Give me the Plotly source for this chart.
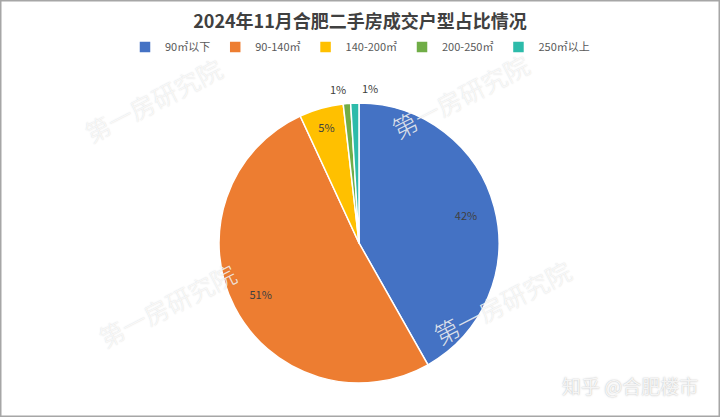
import math
import plotly.graph_objects as go

categories = ["90㎡以下", "90-140㎡", "140-200㎡", "200-250㎡", "250㎡以上"]
shares = [41.8, 51.3, 5.1, 0.85, 0.95]
colors = ["#4472C4", "#ED7D31", "#FFC000", "#70AD47", "#2DBBAA"]
label_inside = [True, True, True, False, False]

W, H = 720, 417
cx, cy, r = 359, 243, 140
domain = dict(x=[(cx - r) / W, (cx + r) / W], y=[(H - cy - r) / H, (H - cy + r) / H])
label_font = dict(size=11, color="#404040", family="Noto Sans CJK SC")

fig = go.Figure()
# full pie (slices)
fig.add_trace(go.Pie(
    labels=categories, values=shares, sort=False, direction="clockwise", rotation=0,
    marker=dict(colors=colors, line=dict(color="white", width=1.5)),
    textinfo="none", hoverinfo="label+percent", domain=domain,
))
# transparent ring over the same slices, carrying the inside percentage labels further out
fig.add_trace(go.Pie(
    labels=categories, values=shares, sort=False, direction="clockwise", rotation=0,
    hole=0.58, showlegend=False, hoverinfo="skip",
    marker=dict(colors=["rgba(0,0,0,0)"] * len(categories), line=dict(width=0)),
    texttemplate="%{percent:.0%}",
    textposition=["inside" if v else "none" for v in label_inside],
    insidetextorientation="horizontal",
    textfont=label_font, insidetextfont=label_font, domain=domain,
))

annotations = []
# outside labels for the tiny slices, placed at each slice's mid-angle
total = sum(shares)
cum = 0.0
side = 0
for cat, v, inside in zip(categories, shares, label_inside):
    mid = (cum + v / 2) / total * 2 * math.pi
    cum += v
    if inside:
        continue
    R = r + 15
    px = cx + R * math.sin(mid)
    py = cy - R * math.cos(mid)
    annotations.append(dict(
        text=f"{round(v / total * 100)}%", x=px / W, y=1 - py / H, xref="paper", yref="paper",
        showarrow=False, xanchor="right" if side == 0 else "left", yanchor="middle",
        xshift=2 if side == 0 else 6, font=label_font))
    side += 1

wm_font = dict(family="Noto Sans CJK SC", size=25, weight=300, color="rgba(255,255,255,0.8)",
               shadow="0px 0px 1.2px rgba(120,120,120,0.4)")
for (x, y) in [(153, 100), (460, 96), (167, 305), (502, 302)]:
    annotations.append(dict(text="第一房研究院", x=x / W, y=1 - y / H, xref="paper", yref="paper",
                            showarrow=False, textangle=-27, xanchor="center", yanchor="middle",
                            font=wm_font))
annotations.append(dict(text="知乎 @合肥楼市", x=630 / W, y=1 - 385 / H, xref="paper", yref="paper",
                        showarrow=False, xanchor="center", yanchor="middle",
                        font=dict(family="Noto Sans CJK SC", size=19, color="rgba(255,255,255,0.85)",
                                  shadow="0px 0px 1.5px rgba(90,90,90,0.6)")))

fig.update_layout(
    width=W, height=H,
    margin=dict(l=0, r=0, t=0, b=0),
    paper_bgcolor="white",
    plot_bgcolor="white",
    title=dict(text="<b>2024年11月合肥二手房成交户型占比情况</b>", x=0.5, xanchor="center",
               y=1 - 22 / H, yanchor="middle", yref="container",
               font=dict(family="Noto Sans CJK SC", size=18, color="#404040")),
    legend=dict(orientation="h", x=0.5, xanchor="center", y=1 - 47 / H, yanchor="middle",
                font=dict(family="Noto Sans CJK SC", size=11, color="#595959"),
                itemwidth=30, traceorder="normal"),
    annotations=annotations,
    shapes=[dict(type="rect", xref="paper", yref="paper", x0=0.5 / W, x1=1 - 0.5 / W,
                 y0=0.5 / H, y1=1 - 0.5 / H, line=dict(color="#A6A6A6", width=2))],
)

fig.write_html("out.html", config={"displayModeBar": False},
               post_script="document.body.style.margin='0';document.body.style.overflow='hidden';")
